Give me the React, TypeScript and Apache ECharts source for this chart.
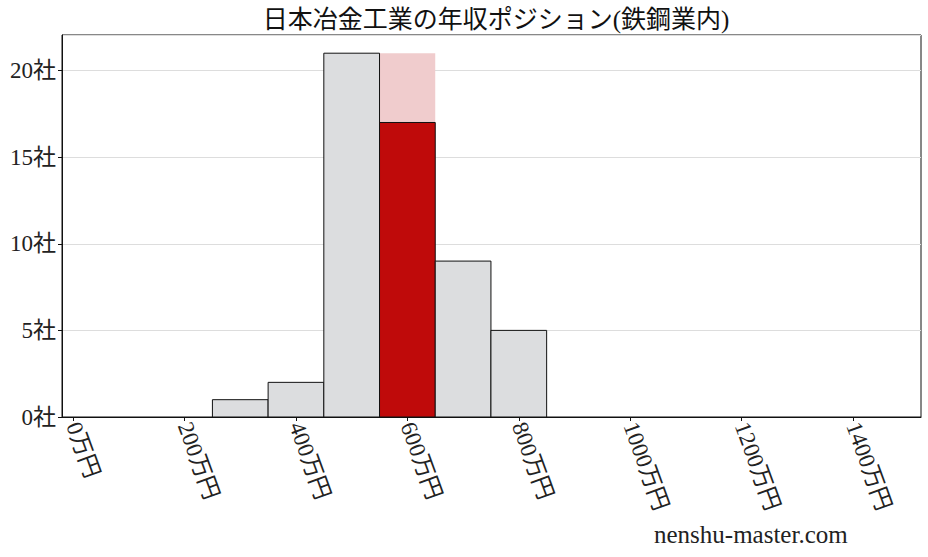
import { useEffect, useRef } from 'react';
import * as echarts from 'echarts';

// bins are 100万円 wide, centred on these values
const binCenters = [300, 400, 500, 600, 700, 800];
const companyCounts = [1, 2, 21, 17, 9, 5];
const highlightBin = 600;
const highlightTop = 21;
const xTicks = [0, 200, 400, 600, 800, 1000, 1200, 1400];
const binHalf = 50;

const FONT = "'Liberation Serif', 'DejaVu Serif', 'Noto Sans CJK JP', serif";

const App = () => {
    const chartRef = useRef(null);

    useEffect(() => {
        document.body.style.margin = '0';
        const myChart = echarts.init(chartRef.current, null, { renderer: 'svg' });

        const rectItem = (api: any, fill: string, stroke: string | null) => {
            const x = api.value(0);
            const y = api.value(1);
            const p0 = api.coord([x - binHalf, y]);
            const p1 = api.coord([x + binHalf, 0]);
            return {
                type: 'rect',
                shape: { x: p0[0], y: p0[1], width: p1[0] - p0[0], height: p1[1] - p0[1] },
                style: stroke ? { fill, stroke, lineWidth: 1 } : { fill },
            };
        };

        myChart.setOption({
            animation: false,
            textStyle: { fontFamily: FONT },
            title: {
                text: '日本冶金工業の年収ポジション(鉄鋼業内)',
                left: 491,
                textAlign: 'center',
                top: 2,
                textStyle: { fontFamily: FONT, fontSize: 25, fontWeight: 'normal', color: '#111' },
            },
            grid: { left: 62, right: 7, top: 35, bottom: 140, show: true, borderColor: '#111', borderWidth: 1 },
            xAxis: {
                type: 'value',
                min: -20,
                max: 1522,
                axisLine: { show: true, onZero: false, lineStyle: { color: '#111', width: 1 } },
                axisTick: { show: true, customValues: xTicks, length: 4, lineStyle: { color: '#111' } },
                axisLabel: {
                    customValues: xTicks,
                    rotate: -70,
                    margin: 6,
                    fontSize: 23,
                    color: '#222',
                    fontFamily: FONT,
                    formatter: (v: number) => `${v}万円`,
                },
                splitLine: { show: false },
            },
            yAxis: {
                type: 'value',
                min: 0,
                max: 22.05,
                interval: 5,
                axisLine: { show: true, onZero: false, lineStyle: { color: '#111', width: 1 } },
                axisTick: { show: true, length: 4, lineStyle: { color: '#111' } },
                axisLabel: {
                    fontSize: 23,
                    color: '#222',
                    margin: 6,
                    fontFamily: FONT,
                    showMaxLabel: false,
                    formatter: (v: number) => `${v}社`,
                },
                splitLine: { show: true, lineStyle: { color: '#dddddd', width: 1 } },
            },
            graphic: [
                {
                    type: 'text',
                    left: 654,
                    top: 522,
                    style: { text: 'nenshu-master.com', font: `25px ${FONT}`, fill: '#222' },
                },
            ],
            series: [
                {
                    type: 'custom',
                    data: [[highlightBin, highlightTop]],
                    renderItem: (_p: any, api: any) => rectItem(api, '#f0cccd', null),
                    z: 2,
                },
                {
                    type: 'custom',
                    data: binCenters.map((c, i) => [c, companyCounts[i]]),
                    renderItem: (p: any, api: any) =>
                        rectItem(api, binCenters[p.dataIndex] === highlightBin ? '#bf0a0a' : '#dcdddf', '#111'),
                    z: 3,
                },
            ],
        });

        return () => {
            myChart.dispose();
        };
    }, []);

    return <div ref={chartRef} style={{ width: '928px', height: '557px' }} />;
};

export default App;
